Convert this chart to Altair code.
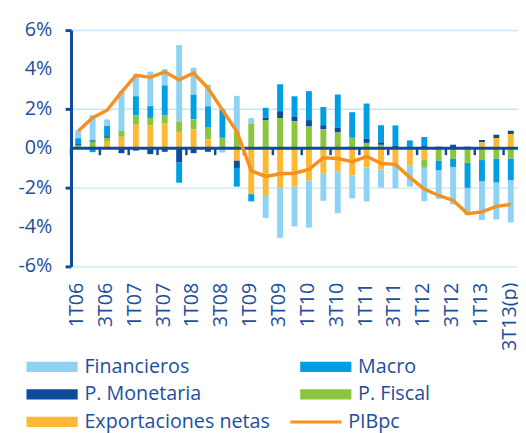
import altair as alt
import pandas as pd

trimestres = ["1T06", "2T06", "3T06", "4T06", "1T07", "2T07", "3T07", "4T07",
              "1T08", "2T08", "3T08", "4T08", "1T09", "2T09", "3T09", "4T09",
              "1T10", "2T10", "3T10", "4T10", "1T11", "2T11", "3T11", "4T11",
              "1T12", "2T12", "3T12", "4T12", "1T13", "2T13", "3T13(p)"]

financieros = [0.42, 1.28, 0.33, 2.02, 1.12, 1.75, 0.83, 3.88, 1.37, 1.10, -0.22,
               1.83, 0.28, -1.17, -2.52, -2.02, -2.40, -1.37, -2.13, -1.18, -1.73,
               -0.92, -1.28, -1.08, -1.70, -1.45, -1.90, -1.38, -1.97, -1.88, -2.15]
macro = [0.30, -0.20, 0.52, 0.00, 0.97, 0.60, 1.53, -1.03, 1.25, 1.05, 1.43,
         -0.95, -0.37, 0.50, 1.37, 1.05, 1.47, 0.93, 1.68, 1.30, 1.78,
         0.87, 1.03, 0.40, 0.45, -0.50, -0.43, -1.28, -1.08, -1.22, -1.10]
monetaria = [0.08, 0.07, 0.08, -0.25, -0.12, -0.30, -0.18, -0.72, -0.25, -0.18, 0.00,
             -0.38, 0.00, 0.12, 0.35, 0.22, 0.33, 0.20, 0.25, 0.00, 0.22,
             0.13, 0.13, 0.00, 0.12, 0.08, 0.18, 0.08, 0.12, 0.17, 0.17]
fiscal = [0.13, 0.33, 0.20, 0.30, 0.47, 0.37, 0.38, 0.53, 0.50, 0.63, 0.53,
          0.83, 1.25, 1.43, 1.53, 1.37, 1.10, 0.97, 0.80, 0.53, 0.27,
          0.17, 0.00, 0.00, -0.42, -0.62, -0.52, -0.73, -0.60, -0.52, -0.52]
exportaciones = [0.00, 0.00, 0.33, 0.58, 1.20, 1.17, 1.28, 0.83, 0.97, 0.45, 0.00,
                 -0.62, -2.33, -2.37, -2.03, -1.95, -1.63, -1.30, -1.17, -1.37, -0.97,
                 -1.08, -0.75, -0.87, -0.57, 0.00, 0.00, 0.00, 0.30, 0.52, 0.72]
pibpc = [0.88, 1.55, 1.93, 2.85, 3.70, 3.60, 3.88, 3.47, 3.82, 3.05, 1.95,
         0.85, -1.15, -1.43, -1.30, -1.27, -1.07, -0.48, -0.52, -0.68, -0.42,
         -0.77, -0.82, -1.48, -2.07, -2.40, -2.65, -3.32, -3.23, -2.95, -2.85]

series = ["Financieros", "Macro", "P. Monetaria", "P. Fiscal", "Exportaciones netas"]
colores = ["#8ed3f4", "#009fe3", "#0d4c9c", "#8bc53f", "#fdb933"]
orden_apilado = ["Exportaciones netas", "P. Fiscal", "P. Monetaria", "Macro", "Financieros"]
valores = {"Financieros": financieros, "Macro": macro, "P. Monetaria": monetaria,
           "P. Fiscal": fiscal, "Exportaciones netas": exportaciones}
y_ticks = [-6, -4, -2, 0, 2, 4, 6]

rows = []
for s in series:
    for t, v in zip(trimestres, valores[s]):
        rows.append({"trimestre": t, "serie": s, "valor": v, "orden": orden_apilado.index(s)})
df = pd.DataFrame(rows)
df_line = pd.DataFrame({"trimestre": trimestres, "pib": pibpc, "nombre": ["PIBpc"] * len(trimestres)})
df_ticks = pd.DataFrame({"trimestre": trimestres[::2]})
df_zero = pd.DataFrame({"y": [0]})
df_ylab = pd.DataFrame({"v": y_ticks})

DARK = "#0f4c9c"
TXT = "#1d4f9c"
FONT = "Open Sans"

xscale = alt.Scale(paddingInner=0, paddingOuter=0)
yscale = alt.Scale(domain=[-6, 6], nice=False)

bars = alt.Chart(df).mark_bar(size=6).encode(
    x=alt.X("trimestre:N", sort=trimestres, scale=xscale,
            axis=alt.Axis(values=trimestres[::2], labelAngle=270, ticks=False, domain=False,
                          labelPadding=16, labelFontSize=20, labelFont=FONT, labelColor=TXT,
                          labelOffset=-1, title=None, grid=False)),
    y=alt.Y("valor:Q", stack="zero", scale=yscale,
            axis=alt.Axis(values=y_ticks, labels=False,
                          title=None, grid=True, gridColor="#c9e7f6", gridWidth=1.5,
                          domainColor=DARK, domainWidth=3, tickColor=DARK, tickWidth=3,
                          tickSize=6)),
    color=alt.Color("serie:N", scale=alt.Scale(domain=series, range=colores),
                    legend=alt.Legend(title=None, orient="none", legendX=-50, legendY=332,
                                      direction="horizontal",
                                      columns=2, columnPadding=25, rowPadding=8, padding=0,
                                      symbolType="M-1,-1L9,-1L9,1L-1,1Z", symbolSize=108,
                                      symbolStrokeWidth=0, labelOffset=43.6, labelLimit=400,
                                      labelFont=FONT, labelFontSize=20, labelColor=TXT)),
    order=alt.Order("orden:Q"),
)

ylabels = alt.Chart(df_ylab).transform_calculate(
    lab="datum.v + '%'"
).mark_text(align="right", baseline="middle", fontSize=20, font=FONT, color=TXT).encode(
    y=alt.Y("v:Q", scale=yscale),
    x=alt.value(-19),
    text="lab:N",
)

zero = alt.Chart(df_zero).mark_rule(color=DARK, strokeWidth=3).encode(
    y=alt.Y("y:Q", scale=yscale))

ticks = alt.Chart(df_ticks).mark_rule(color=DARK, strokeWidth=2.5, y2Offset=7).encode(
    x=alt.X("trimestre:N", sort=trimestres, bandPosition=0),
    y=alt.datum(0), y2=alt.datum(0),
)

line = alt.Chart(df_line).mark_line(strokeWidth=3.5).encode(
    x=alt.X("trimestre:N", sort=trimestres, bandPosition=0.5),
    y=alt.Y("pib:Q", scale=yscale),
    stroke=alt.Stroke("nombre:N", scale=alt.Scale(domain=["PIBpc"], range=["#f7901e"]),
                      legend=alt.Legend(title=None, orient="none", legendX=218, legendY=388,
                                        padding=0, symbolType="M-1,0L9,0", symbolSize=108,
                                        symbolStrokeWidth=3, labelOffset=43.6, labelLimit=400,
                                        labelFont=FONT, labelFontSize=20, labelColor=TXT)),
)

chart = alt.layer(bars, zero, ticks, line, ylabels).properties(
    width=454, height=240,
    autosize=alt.AutoSizeParams(type="none"),
    padding={"left": 64, "top": 19, "right": 0, "bottom": 180},
).configure_view(stroke=None)

chart.save("out.html", embed_options={"renderer": "svg", "actions": False})
